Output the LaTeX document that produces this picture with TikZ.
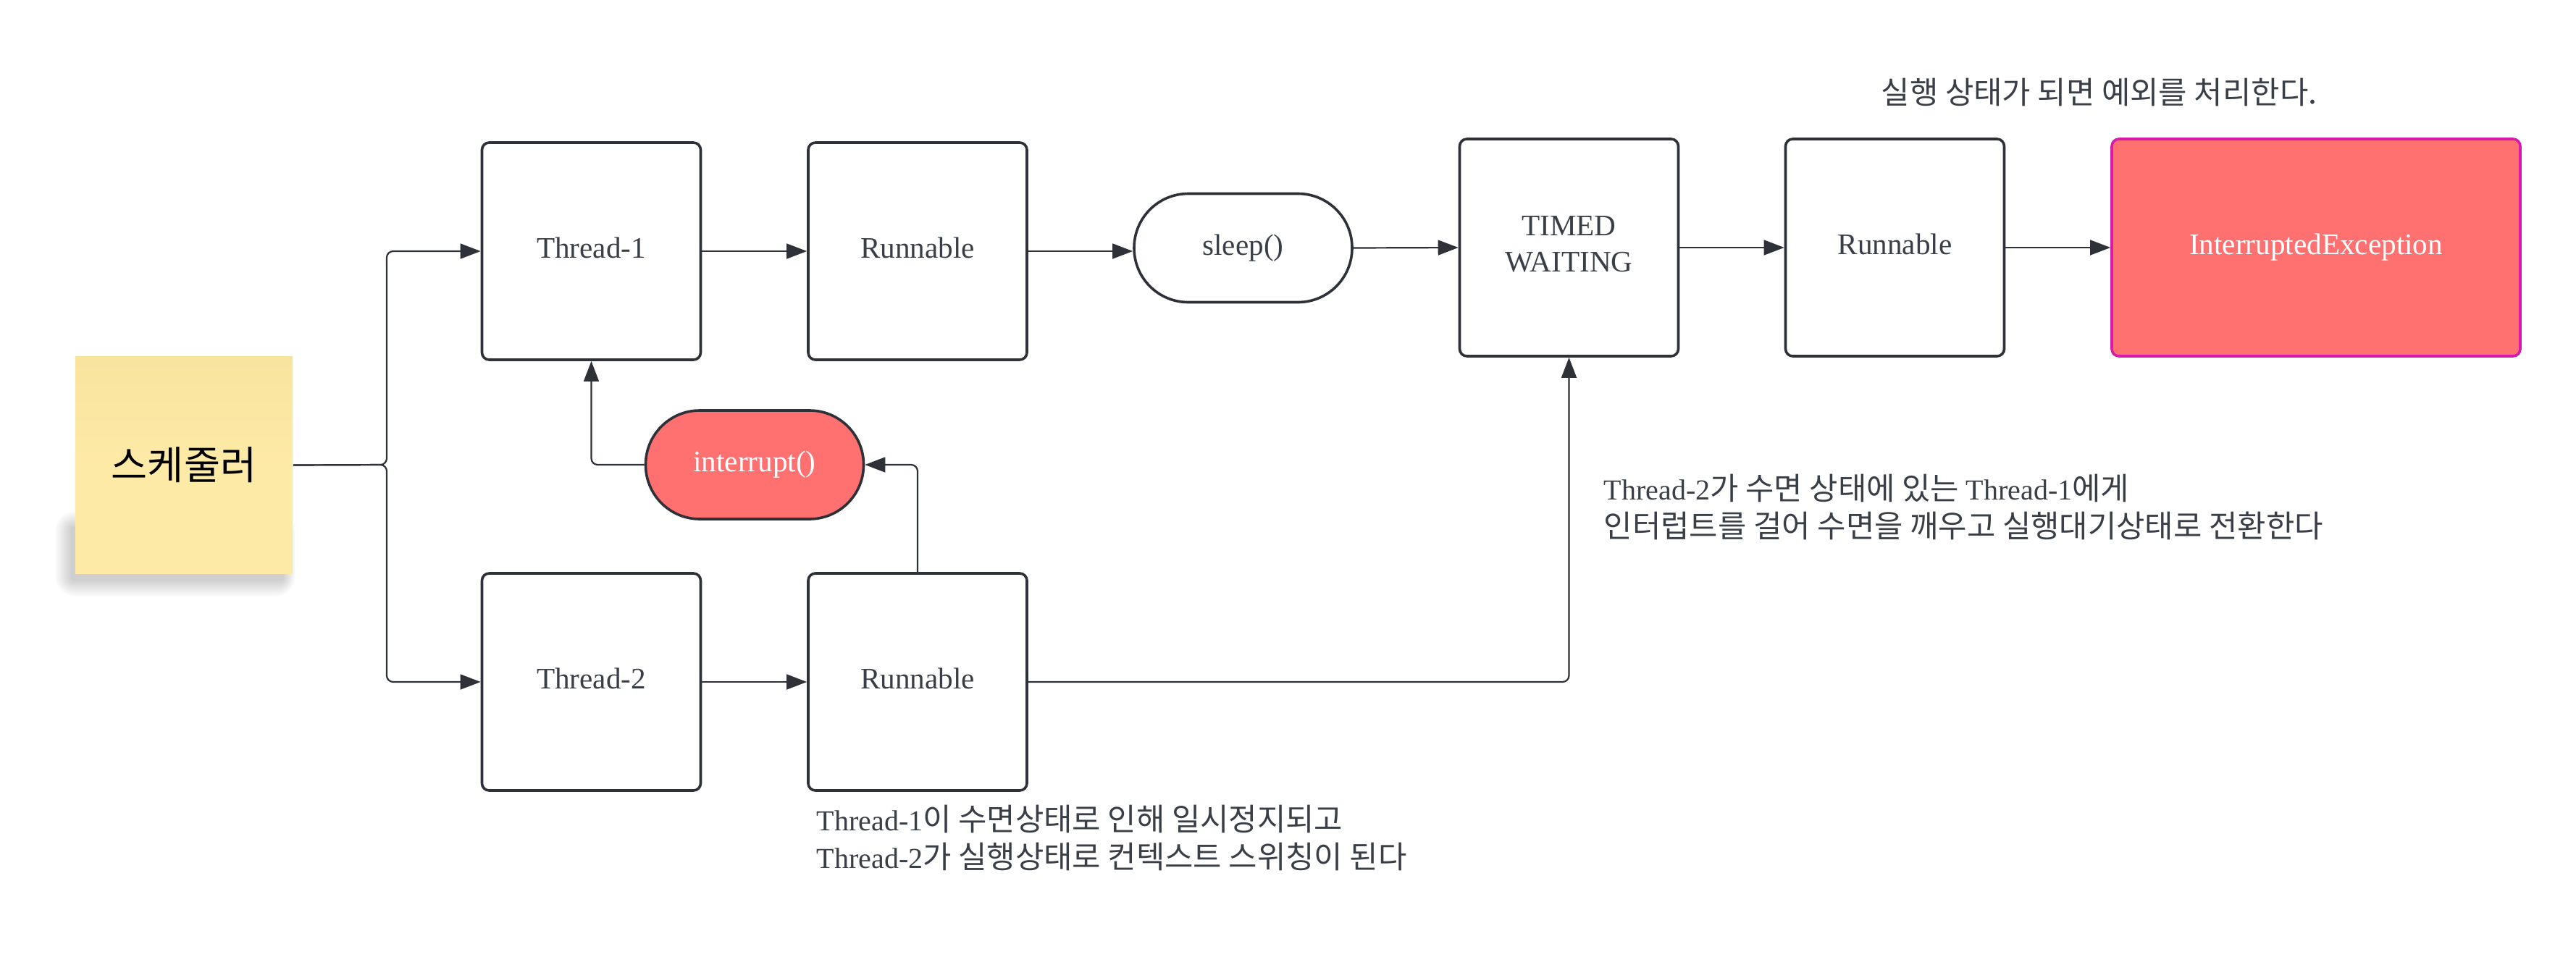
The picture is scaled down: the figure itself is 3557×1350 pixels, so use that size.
\documentclass[tikz,border=0pt]{standalone}
\usepackage{fontspec}
\setmainfont{Liberation Serif}
\newfontfamily\kr{Noto Sans CJK KR}
\usetikzlibrary{arrows.meta}
\definecolor{ink}{HTML}{2E3138}
\definecolor{txt}{HTML}{3A3F47}
\definecolor{salmon}{HTML}{FF7171}
\definecolor{mag}{HTML}{D81AA8}
\definecolor{stickyfill}{HTML}{FDEAA6}
\definecolor{stickytop}{HTML}{F9E49E}
\newcommand\K[1]{{\kr\fontsize{10.7pt}{13pt}\selectfont #1}}
\tikzset{
  box/.style={draw=ink, line width=0.9pt, rounded corners=2.5pt, fill=white,
    minimum width=75.5pt, minimum height=75pt, inner sep=0pt, text=txt,
    text depth=2.3pt,
    font=\fontsize{10.3pt}{12.5pt}\selectfont, align=center},
  pill/.style={box, minimum width=75.25pt, minimum height=37.5pt, rounded corners=18.7pt},
  conn/.style={draw=ink, line width=0.55pt, -{Triangle[length=7pt,width=5.2pt]}, rounded corners=2.2pt},
  note/.style={anchor=west, inner sep=0pt, text=txt, align=left,
    font=\fontsize{10pt}{13pt}\selectfont}
}
\begin{document}
\begin{tikzpicture}[x=0.25pt,y=-0.25pt]
\useasboundingbox (0,0) rectangle (3557,1350);
\fill[white] (0,0) rectangle (3557,1350);

% sticky note shadow (soft)
\foreach \i in {1,...,12}{
  \fill[black, opacity=0.014, rounded corners=\i*0.6pt]
    (100-\i*2, 730-\i*2) rectangle (390+\i*1.5, 800+\i*2);
}
% sticky note
\node[draw=none, minimum width=75pt, minimum height=75pt, inner sep=0pt,
  top color=stickytop, bottom color=stickyfill, middle color=stickyfill,
  font=\kr\fontsize{13.6pt}{15pt}\selectfont, text=black] (sch) at (254,642.5) {\raisebox{0.6pt}{스케줄러}};

% top row
\node[box] (t1) at (816.5,347) {Thread-1};
\node[box] (r1) at (1267,347) {Runnable};
\node[pill] (sl) at (1716.5,342.5) {sleep()};
\node[box] (tw) at (2166.5,342) {TIMED\\WAITING};
\node[box] (r3) at (2616.5,342) {Runnable};
\node[box, draw=mag, fill=salmon, text=white, minimum width=141pt] (ie) at (3198,342) {InterruptedException};

% middle
\node[pill, fill=salmon, text=white] (in) at (1042,642) {interrupt()};

% bottom row
\node[box] (t2) at (816.5,942) {Thread-2};
\node[box] (r2) at (1267,942) {Runnable};

% annotations
\node[note] (na) at (2597,127) {\K{실행 상태가 되면 예외를 처리한다.}};
\node[note] (nb) at (2214,700) {Thread-2\K{가 수면 상태에 있는 }Thread-1\K{에게}\\\K{인터럽트를 걸어 수면을 깨우고 실행대기상태로 전환한다}};
\node[note] (nc) at (1127,1157) {Thread-1\K{이 수면상태로 인해 일시정지되고}\\Thread-2\K{가 실행상태로 컨텍스트 스위칭이 된다}};

% connectors
\coordinate (bus) at (534,642);
\draw[conn] (sch.east) -- (bus) -- (bus |- t1.west) -- (t1.west);
\draw[conn] (sch.east) -- (bus) -- (bus |- t2.west) -- (t2.west);
\draw[conn] (t1.east) -- (r1.west);
\draw[conn] (r1.east) -- (r1.east -| sl.west);
\draw[conn] (sl.east) -- (tw.west);
\draw[conn] (tw.east) -- (r3.west);
\draw[conn] (r3.east) -- (ie.west);
\draw[conn] (t2.east) -- (r2.west);
\draw[conn] (r2.east) -- (r2.east -| tw.south) -- (tw.south);
\draw[conn] (r2.north) -- (r2.north |- in.east) -- (in.east);
\draw[conn] (in.west) -- (in.west -| t1.south) -- (t1.south);
\end{tikzpicture}
\end{document}
